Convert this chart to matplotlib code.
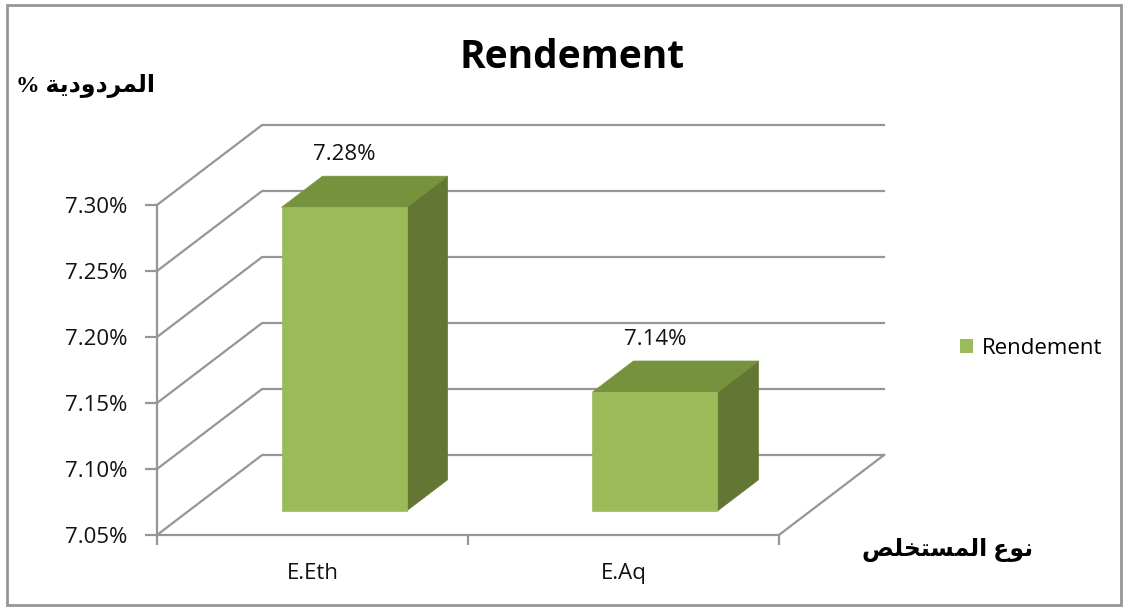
import matplotlib
matplotlib.use("Agg")
import matplotlib.pyplot as plt
from matplotlib.patches import Polygon, Rectangle, Patch

categories = ["E.Eth", "E.Aq"]
values = [7.28, 7.14]
value_labels = ["7.28%", "7.14%"]
y_ticks = [7.05, 7.10, 7.15, 7.20, 7.25, 7.30]
series_name = "Rendement"

# arabic titles, written as presentation forms in visual order
# (matplotlib does no shaping / bidi on its own)
y_title = "% " + "\uFE94\uFEF3\uFEA9\uFEED\uFEA9\uFEAE\uFEE4\uFEDF\uFE8D"          # المردودية %
x_title = "\uFEBA\uFEE0\uFEA8\uFE98\uFEB4\uFEE4\uFEDF\uFE8D \uFEC9\uFEEE\uFEE7"     # نوع المستخلص

plt.rcParams['font.family'] = ['Open Sans', 'DejaVu Sans']

# fake 3d: depth offset in data units
DX = 0.338
DY = 0.0606
d0, d1 = 0.30, 0.69      # bar depth range (fraction of floor depth)
half_w = 0.201
grid_col = "#969696"
front_col = "#9BBB59"
top_col = "#77923C"
side_col = "#647634"

W, H = 1129, 607
fig = plt.figure(figsize=(W / 100, H / 100), dpi=100)
ax = fig.add_axes([157 / W, 72 / H, 727 / W, 410 / H])
n = len(categories)
ax.set_xlim(0, n + DX)
ax.set_ylim(y_ticks[0], y_ticks[-1] + DY)


def proj(x, y, d):
    return (x + d * DX, y + d * DY)


# walls: gridlines on the side wall and back wall
for v in y_ticks:
    ax.plot([0, DX, n + DX], [v, v + DY, v + DY], color=grid_col, lw=1.6,
            clip_on=False, zorder=1)
# floor right edge
ax.plot([n, n + DX], [y_ticks[0], y_ticks[0] + DY], color=grid_col, lw=1.6,
        clip_on=False, zorder=1)

base = y_ticks[0]
for i, v in enumerate(values):
    c = i + 0.5
    l, r = c - half_w, c + half_w
    side = [proj(r, base, d0), proj(r, base, d1), proj(r, v, d1), proj(r, v, d0)]
    top = [proj(l, v, d0), proj(r, v, d0), proj(r, v, d1), proj(l, v, d1)]
    front = [proj(l, base, d0), proj(r, base, d0), proj(r, v, d0), proj(l, v, d0)]
    ax.add_patch(Polygon(side, closed=True, facecolor=side_col, edgecolor=side_col, lw=0.5, zorder=3))
    ax.add_patch(Polygon(top, closed=True, facecolor=top_col, edgecolor=top_col, lw=0.5, zorder=3))
    ax.add_patch(Polygon(front, closed=True, facecolor=front_col, edgecolor=front_col, lw=0.5, zorder=3))
    ax.annotate(value_labels[i], xy=(c + d0 * DX, v + d1 * DY), xytext=(0, 11),
                textcoords='offset pixels', ha='center', va='bottom', fontsize=16,
                color='#111111')

# axes lines
for s in ['top', 'right']:
    ax.spines[s].set_visible(False)
ax.spines['left'].set_bounds(y_ticks[0], y_ticks[-1])
ax.spines['bottom'].set_bounds(0, n)
for s in ['left', 'bottom']:
    ax.spines[s].set_color(grid_col)
    ax.spines[s].set_linewidth(1.6)

ax.set_yticks(y_ticks)
ax.set_yticklabels([f"{t:.2f}%" for t in y_ticks])
ax.tick_params(axis='y', direction='out', length=9, width=1.6, color=grid_col,
               pad=12, labelsize=16, labelcolor='#111111')

ax.set_xticks(range(n + 1))
ax.set_xticklabels([""] * (n + 1))
ax.set_xticks([i + 0.5 for i in range(n)], minor=True)
ax.set_xticklabels(categories, minor=True)
ax.tick_params(axis='x', which='major', direction='out', length=7, width=1.6, color=grid_col)
ax.tick_params(axis='x', which='minor', length=0, pad=20, labelsize=16, labelcolor='#111111')

# titles
fig.text(572 / W, 1 - 58 / H, "Rendement", ha='center', va='center',
         fontsize=28, fontweight='bold')
fig.text(86 / W, 1 - 86 / H, y_title, ha='center', va='center', fontsize=17,
         fontweight='bold', family=['Liberation Serif', 'DejaVu Sans'])
fig.text(948 / W, 1 - 550 / H, x_title, ha='center', va='center', fontsize=17,
         fontweight='bold', family=['Liberation Serif', 'DejaVu Sans'])

# legend
fig.legend(handles=[Patch(facecolor=front_col, edgecolor='none', label=series_name)],
           loc='center left', bbox_to_anchor=(960 / W, 1 - 348 / H), frameon=False,
           fontsize=16, handlelength=0.6, handleheight=0.6, handletextpad=0.4,
           borderpad=0, borderaxespad=0)

# chart border
fig.add_artist(Rectangle((7 / W, 1 - 605 / H), (1121 - 7) / W, (605 - 5) / H,
                         transform=fig.transFigure, fill=False, edgecolor=grid_col, lw=2))

fig.savefig("out.png", dpi=100)
